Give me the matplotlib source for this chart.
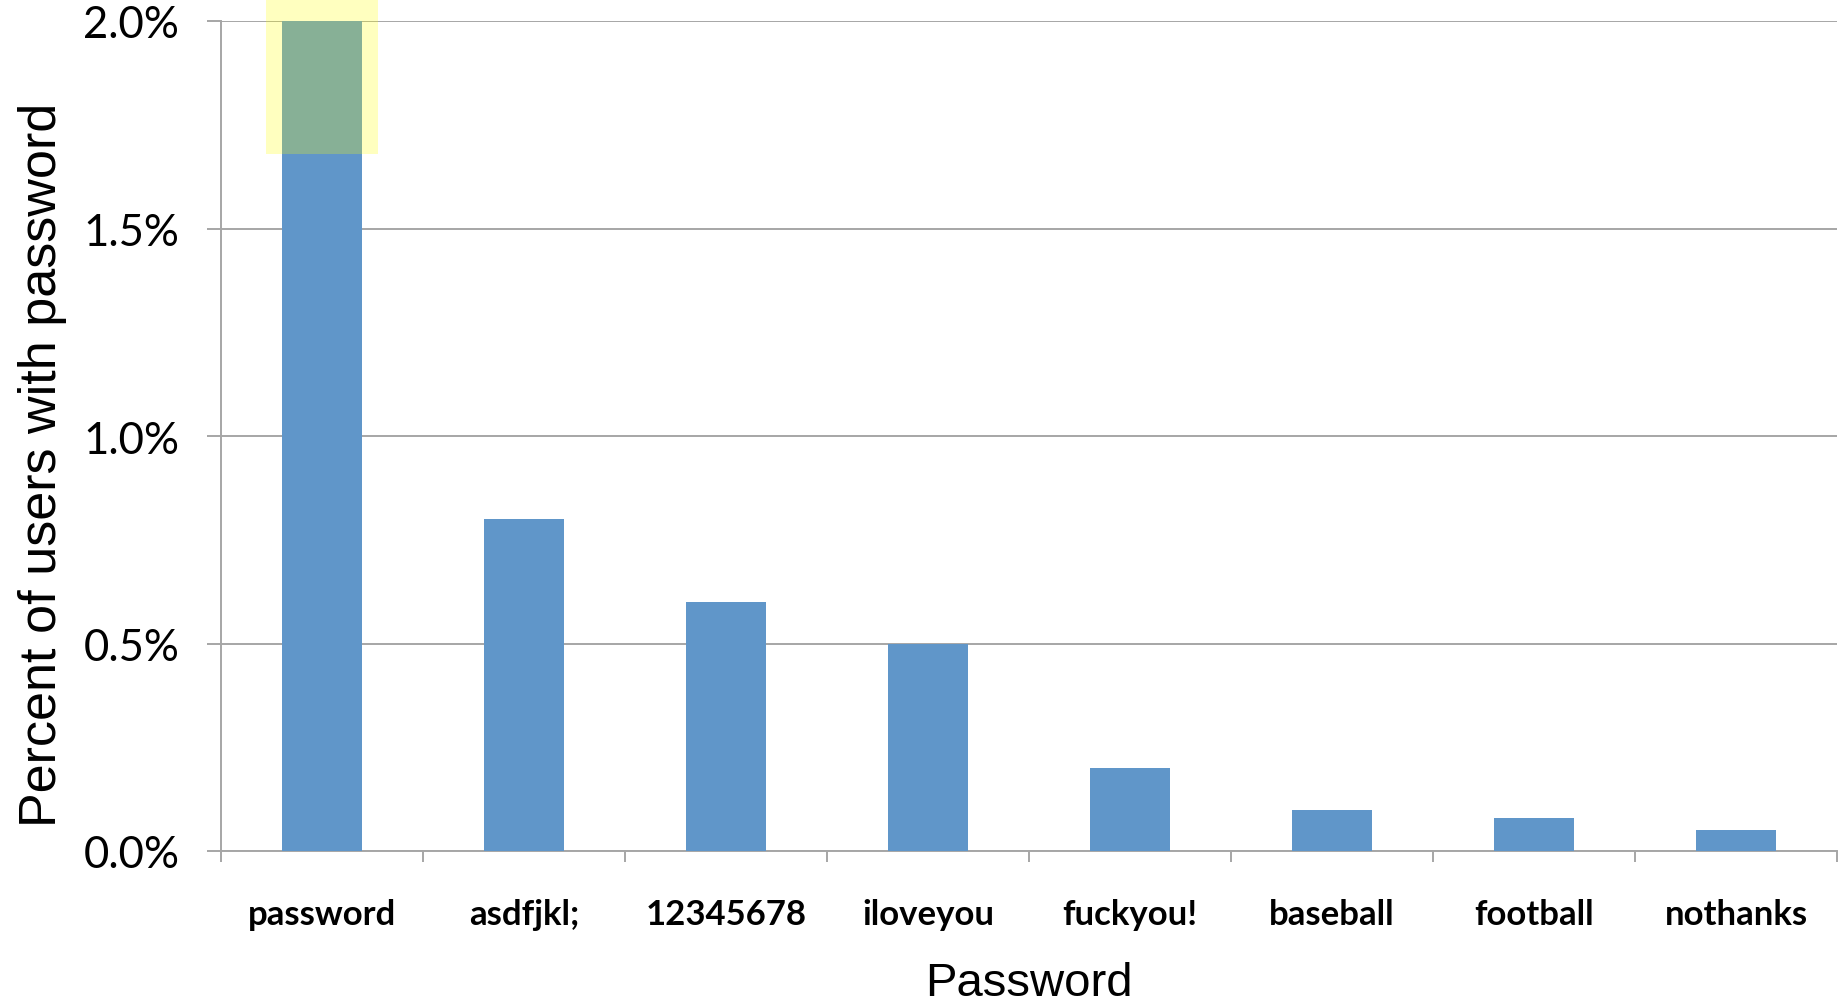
import matplotlib
matplotlib.use('Agg')
import matplotlib.pyplot as plt
from matplotlib.patches import Rectangle
from matplotlib.ticker import FuncFormatter

categories = ['password', 'asdfjkl;', '12345678', 'iloveyou', 'fuckyou!',
              'baseball', 'football', 'nothanks']
values = [2.0, 0.8, 0.6, 0.5, 0.2, 0.1, 0.08, 0.05]
yticks = [0.0, 0.5, 1.0, 1.5, 2.0]
highlight_from = 1.68  # yellow marker over the top bar

W, H = 1846, 1003
fig = plt.figure(figsize=(W / 100, H / 100), dpi=100)
ax = fig.add_axes([221 / W, 1 - 852 / H, (1837 - 221) / W, (852 - 22) / H])

grid_c = '#A6A6A6'
x = list(range(len(categories)))
ax.bar(x, values, width=0.4, color='#6096C9', zorder=3)
ax.set_xlim(-0.5, len(categories) - 0.5)
ax.set_ylim(0, 2.0)

ax.set_yticks(yticks)
ax.yaxis.set_major_formatter(FuncFormatter(lambda v, p: f'{v:.1f}%'))
ax.grid(axis='y', color=grid_c, lw=1.4, zorder=0)
ax.tick_params(axis='y', length=10, width=1.4, color=grid_c, pad=20,
               labelsize=31.5)
for t in ax.get_yticklabels():
    t.set_fontfamily('Lato')

# category boundaries as major ticks, labels at centres as minor ticks
ax.set_xticks([i - 0.5 for i in range(len(categories) + 1)])
ax.set_xticklabels([])
ax.set_xticks(x, minor=True)
ax.set_xticklabels(categories, minor=True, fontfamily='Lato',
                   fontweight='bold', fontsize=25)
ax.tick_params(axis='x', which='major', length=8, width=1.4, color=grid_c)
ax.tick_params(axis='x', which='minor', length=0, pad=34)

for s in ['top', 'right']:
    ax.spines[s].set_visible(False)
for s in ['left', 'bottom']:
    ax.spines[s].set_color(grid_c)
    ax.spines[s].set_linewidth(1.4)

ax.add_patch(Rectangle((-0.275, highlight_from), 0.55, 0.6,
                       facecolor='#FFFF00', alpha=0.25, edgecolor='none',
                       clip_on=False, zorder=5))

fig.text(43 / W, 1 - 465 / H, 'Percent of users with password',
         rotation=90, ha='center', va='center', fontsize=37.5,
         fontfamily='Liberation Sans')
fig.text(1029 / W, 1 - 984 / H, 'Password', ha='center', va='center',
         fontsize=34, fontfamily='Liberation Sans')

fig.savefig('out.png', dpi=100)
